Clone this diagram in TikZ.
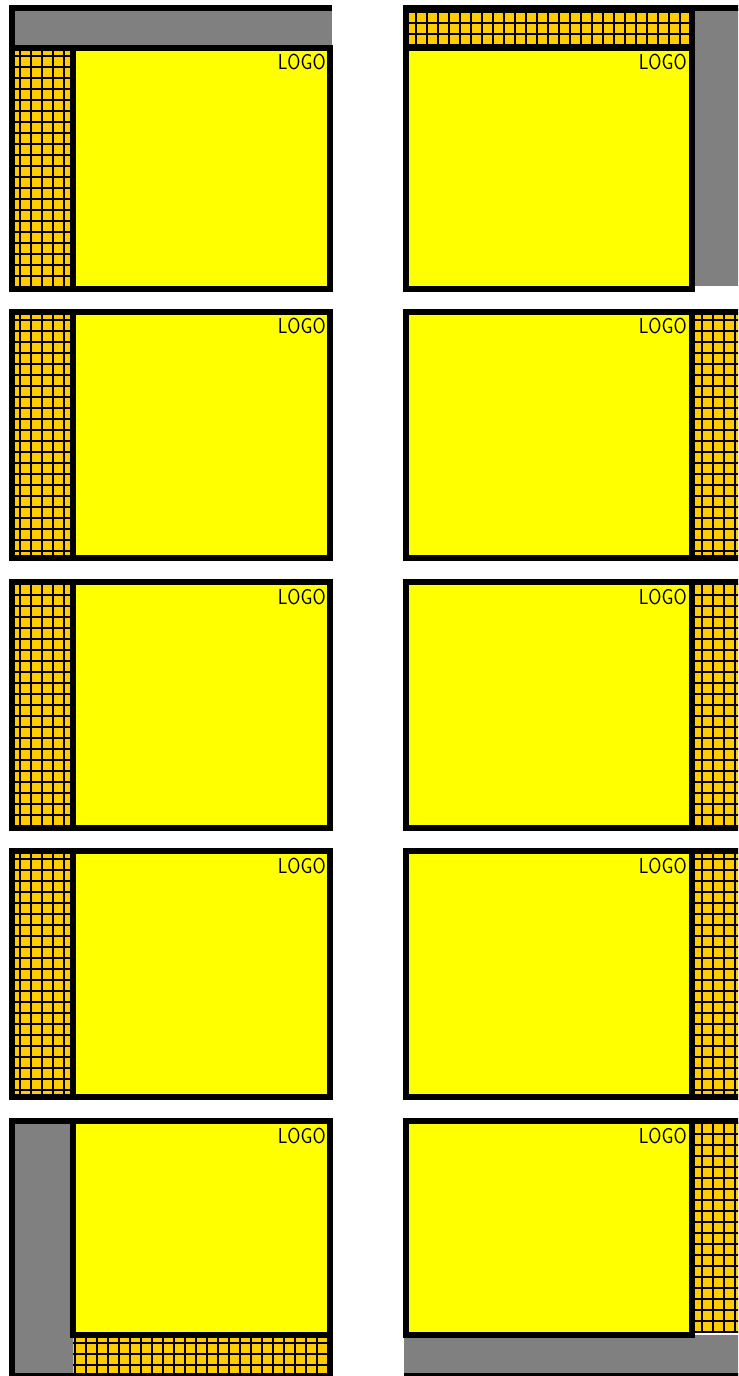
\documentclass[tikz,border=0pt]{standalone}
\definecolor{pgyellow}{HTML}{FFFF00}
\definecolor{pggray}{HTML}{808080}
\definecolor{pgorange}{HTML}{FFCC00}
\definecolor{pgbrown}{HTML}{8A6A10}
\tikzset{
  frame/.style={line width=4.5pt, line join=miter, black},
  gridline/.style={line width=2pt, black},
  logo/.style={anchor=base east, inner sep=0pt, font=\fontsize{16.2}{18}\selectfont\sffamily},
}
\newcommand\mygrid[4]{%
  \begin{scope}
    \fill[pgorange] (#1,#2) rectangle (#3,#4);
    \clip (#1,#2) rectangle (#3,#4);
    \foreach \gx in {9,20,...,790} \draw[gridline] (\gx,#2) -- (\gx,#4);
    \foreach \gy in {1,12,...,1400} \draw[gridline] (#1,\gy) -- (#3,\gy);
  \end{scope}}
\newcommand\logotext{\scalebox{0.88}[1]{LOGO}}
\begin{document}
\begin{tikzpicture}[x=0.75pt,y=-0.75pt]
\useasboundingbox (0,0) rectangle (738,1376);
\fill[white] (0,0) rectangle (738,1376);
\clip (0,0) rectangle (738,1376);

% ---------- row 1, left page ----------
\fill[pggray] (12,8) rectangle (332,48);
\mygrid{12}{48}{73}{289}
\fill[pgyellow] (73,48) rectangle (330,289);
\draw[frame] (332,8) -- (12,8) -- (12,48);
\draw[frame] (12,48) rectangle (330,289);
\draw[frame] (73,48) -- (73,289);
\node[logo] (logoL1) at (326,70) {\logotext};

% ---------- row 1, right page ----------
\mygrid{406}{8}{692}{48}
\fill[pggray] (692,8) rectangle (760,286);
\fill[pgyellow] (406,48) rectangle (692,289);
\draw[frame] (760,8) -- (406,8) -- (406,289) -- (692,289) -- (692,8);
\draw[frame] (406,48) -- (692,48);
\node[logo] (logoR1) at (687,70) {\logotext};

% ---------- rows 2-4 ----------
\foreach \T in {312,582,851} {
  % left page
  \mygrid{12}{\T}{73}{\T+246}
  \fill[pgyellow] (73,\T) rectangle (330,\T+246);
  \draw[frame] (12,\T) rectangle (330,\T+246);
  \draw[frame] (73,\T) -- (73,\T+246);
  \node[logo] (logoL\T) at (326,\T+22) {\logotext};
  % right page
  \fill[pgyellow] (406,\T) rectangle (692,\T+246);
  \mygrid{692}{\T}{760}{\T+246}
  \draw[frame] (760,\T) -- (406,\T) -- (406,\T+246) -- (760,\T+246);
  \draw[frame] (692,\T) -- (692,\T+246);
  \node[logo] (logoR\T) at (687,\T+22) {\logotext};
}

% ---------- row 5, left page ----------
\fill[pggray] (12,1121) rectangle (73,1380);
\fill[pgyellow] (73,1121) rectangle (330,1335);
\mygrid{73}{1335}{330}{1380}
\draw[frame] (12,1121) rectangle (330,1376);
\draw[frame] (73,1121) -- (73,1335) -- (330,1335);
\node[logo] (logoL5) at (326,1143) {\logotext};

% ---------- row 5, right page ----------
\fill[pgyellow] (406,1121) rectangle (692,1335);
\mygrid{692}{1121}{760}{1333}
\fill[pggray] (404,1335) rectangle (760,1376);
\draw[frame] (760,1121) -- (406,1121) -- (406,1335) -- (692,1335) -- (692,1121);
\draw[frame] (404,1376) -- (760,1376);
\node[logo] (logoR5) at (687,1143) {\logotext};
\end{tikzpicture}
\end{document}
